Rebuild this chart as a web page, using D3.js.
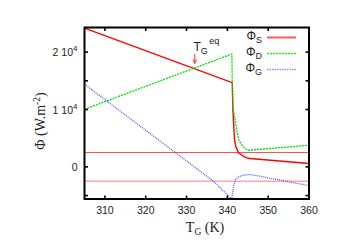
<!DOCTYPE html>
<html><head><meta charset="utf-8">
<script src="https://cdn.jsdelivr.net/npm/d3@7/dist/d3.min.js"></script>
<style>body{margin:0;background:#fff}svg{display:block}</style>
</head><body>
<script>
// Data
const xTicks = [310, 320, 330, 340, 350, 360];
const yTicks = [-5000, 0, 10000, 15000, 20000];
const yTickLabels = [{v: 20000, m: "2 10", e: "4"}, {v: 10000, m: "1 10", e: "4"}, {v: 0, m: "0", e: ""}];
const refLines = [2500, -2500];

const tS   = [305, 341.2, 341.35, 341.5, 341.75, 342.1, 342.7, 343.9, 344.6, 345.5, 360];
const phiS = [24200, 14680, 10000, 8150, 4650, 3490, 2500, 1860, 1600, 1460, 590];

const tD   = [305, 341.1, 341.2, 341.4, 341.9, 342.3, 342.8, 343.6, 344.3, 345.1, 360];
const phiD = [10040, 19680, 15000, 10400, 8150, 6400, 4650, 3780, 3200, 2900, 3780];

const tG   = [305, 336.6, 341.05, 341.5, 341.9, 342.7, 343.9, 345.5, 348, 353, 359.4, 360];
const phiG = [14400, -2500, -5600, -3490, -2320, -1740, -1450, -1330, -1620, -2320, -3200, -3300];

const W = 351, H = 248;
const L = 84.5, R = 309, T = 27.5, B = 199;
const svg = d3.select("body").append("svg").attr("width", W).attr("height", H);
const x = d3.scaleLinear().domain([305, 360]).range([L, R]);
const y = d3.scaleLinear().domain([-5600, 24300]).range([B, T]);

svg.append("clipPath").attr("id", "c").append("rect")
  .attr("x", L).attr("y", T).attr("width", R - L).attr("height", B - T);
const g = svg.append("g").attr("clip-path", "url(#c)");

// reference lines
g.append("line").attr("x1", L).attr("x2", R).attr("y1", y(refLines[0])).attr("y2", y(refLines[0]))
  .attr("stroke", "#ff5050").attr("stroke-width", 1.1);
g.append("line").attr("x1", L).attr("x2", R).attr("y1", y(refLines[1])).attr("y2", y(refLines[1]))
  .attr("stroke", "#ffa8a8").attr("stroke-width", 1.6);

const line = d3.line().x(d => x(d[0])).y(d => y(d[1]));
const series = [
  {t: tS, v: phiS, c: "#ff0000", w: 1.4, dash: null},
  {t: tD, v: phiD, c: "#00e000", w: 1.3, dash: "2,1"},
  {t: tG, v: phiG, c: "#4a4aff", w: 1.2, dash: "1,1"}
];
series.forEach(s => {
  g.append("path").datum(s.t.map((t, i) => [t, s.v[i]]))
    .attr("d", line).attr("fill", "none").attr("stroke", s.c)
    .attr("stroke-width", s.w).attr("stroke-dasharray", s.dash);
});

// axes
const fr = svg.append("g");
fr.append("rect").attr("x", L).attr("y", T).attr("width", R - L).attr("height", B - T)
  .attr("fill", "none").attr("stroke", "#000").attr("stroke-width", 2);
xTicks.forEach(v => {
  fr.append("line").attr("x1", x(v)).attr("x2", x(v)).attr("y1", B).attr("y2", B - 3.5).attr("stroke", "#000").attr("stroke-width", 1.6);
  fr.append("line").attr("x1", x(v)).attr("x2", x(v)).attr("y1", T).attr("y2", T + 3.5).attr("stroke", "#000").attr("stroke-width", 1.6);
  svg.append("text").attr("x", x(v)).attr("y", 214).attr("text-anchor", "middle")
    .attr("font-family", "Liberation Sans, Arial, sans-serif").attr("font-size", 10.5).attr("fill", "#222").text(v);
});
yTicks.forEach(v => {
  fr.append("line").attr("x1", L).attr("x2", L + 3.5).attr("y1", y(v)).attr("y2", y(v)).attr("stroke", "#000").attr("stroke-width", 1.6);
  fr.append("line").attr("x1", R).attr("x2", R - 3.5).attr("y1", y(v)).attr("y2", y(v)).attr("stroke", "#000").attr("stroke-width", 1.6);
});
yTickLabels.forEach(d => {
  const t = svg.append("text").attr("x", 77.5).attr("y", y(d.v) + 4).attr("text-anchor", "end")
    .attr("font-family", "Liberation Sans, Arial, sans-serif").attr("font-size", 10.5).attr("fill", "#222");
  t.append("tspan").text(d.m);
  if (d.e) t.append("tspan").attr("dy", -5).attr("font-size", 8).text(d.e);
});

// axis titles
const xt = svg.append("text").attr("x", 205).attr("y", 231.5).attr("text-anchor", "middle")
  .attr("font-family", "Liberation Serif, Times New Roman, serif").attr("font-size", 14).attr("fill", "#222");
xt.append("tspan").text("T");
xt.append("tspan").attr("dy", 3).attr("font-size", 9.5).text("G");
xt.append("tspan").attr("dy", -3).text(" (K)");

const yt = svg.append("text").attr("transform", "translate(45,121) rotate(-90)").attr("text-anchor", "middle")
  .attr("font-family", "Liberation Serif, Times New Roman, serif").attr("font-size", 14).attr("fill", "#222");
yt.append("tspan").text("Φ (W.m");
yt.append("tspan").attr("dy", -5).attr("font-size", 9.5).text("-2");
yt.append("tspan").attr("dy", 5).text(")");

// legend
const legNames = ["S", "D", "G"];
const legCols = ["#ff5a5a", "#22ee22", "#8c8cff"];
const legDash = [null, "2,1", "1.5,1"];
legNames.forEach((n, i) => {
  const yy = 39.5 + i * 16;
  const t = svg.append("text").attr("x", 262).attr("y", yy).attr("text-anchor", "end")
    .attr("font-family", "Liberation Sans, Arial, sans-serif").attr("font-size", 12).attr("fill", "#222");
  t.append("tspan").text("Φ");
  t.append("tspan").attr("dy", 3).attr("font-size", 9).text(n);
  svg.append("line").attr("x1", 267).attr("x2", 296).attr("y1", yy - 2).attr("y2", yy - 2)
    .attr("stroke", legCols[i]).attr("stroke-width", i === 0 ? 2 : 1.3)
    .attr("stroke-dasharray", legDash[i]);
});

// annotation
const an = svg.append("text").attr("x", 193.5).attr("y", 51)
  .attr("font-family", "Liberation Sans, Arial, sans-serif").attr("font-size", 12).attr("fill", "#222");
an.append("tspan").text("T");
an.append("tspan").attr("dy", 3).attr("font-size", 9).text("G");
an.append("tspan").attr("dy", -10).attr("dx", 1.5).attr("font-size", 9).text("eq");
const ax = 194.8;
svg.append("line").attr("x1", ax).attr("x2", ax).attr("y1", 54).attr("y2", 63).attr("stroke", "#ff3030").attr("stroke-width", 1);
svg.append("path").attr("d", `M${ax - 1.8},59.5 L${ax},63.5 L${ax + 1.8},59.5`).attr("fill", "none").attr("stroke", "#ff3030").attr("stroke-width", 1);
</script>
</body></html>
